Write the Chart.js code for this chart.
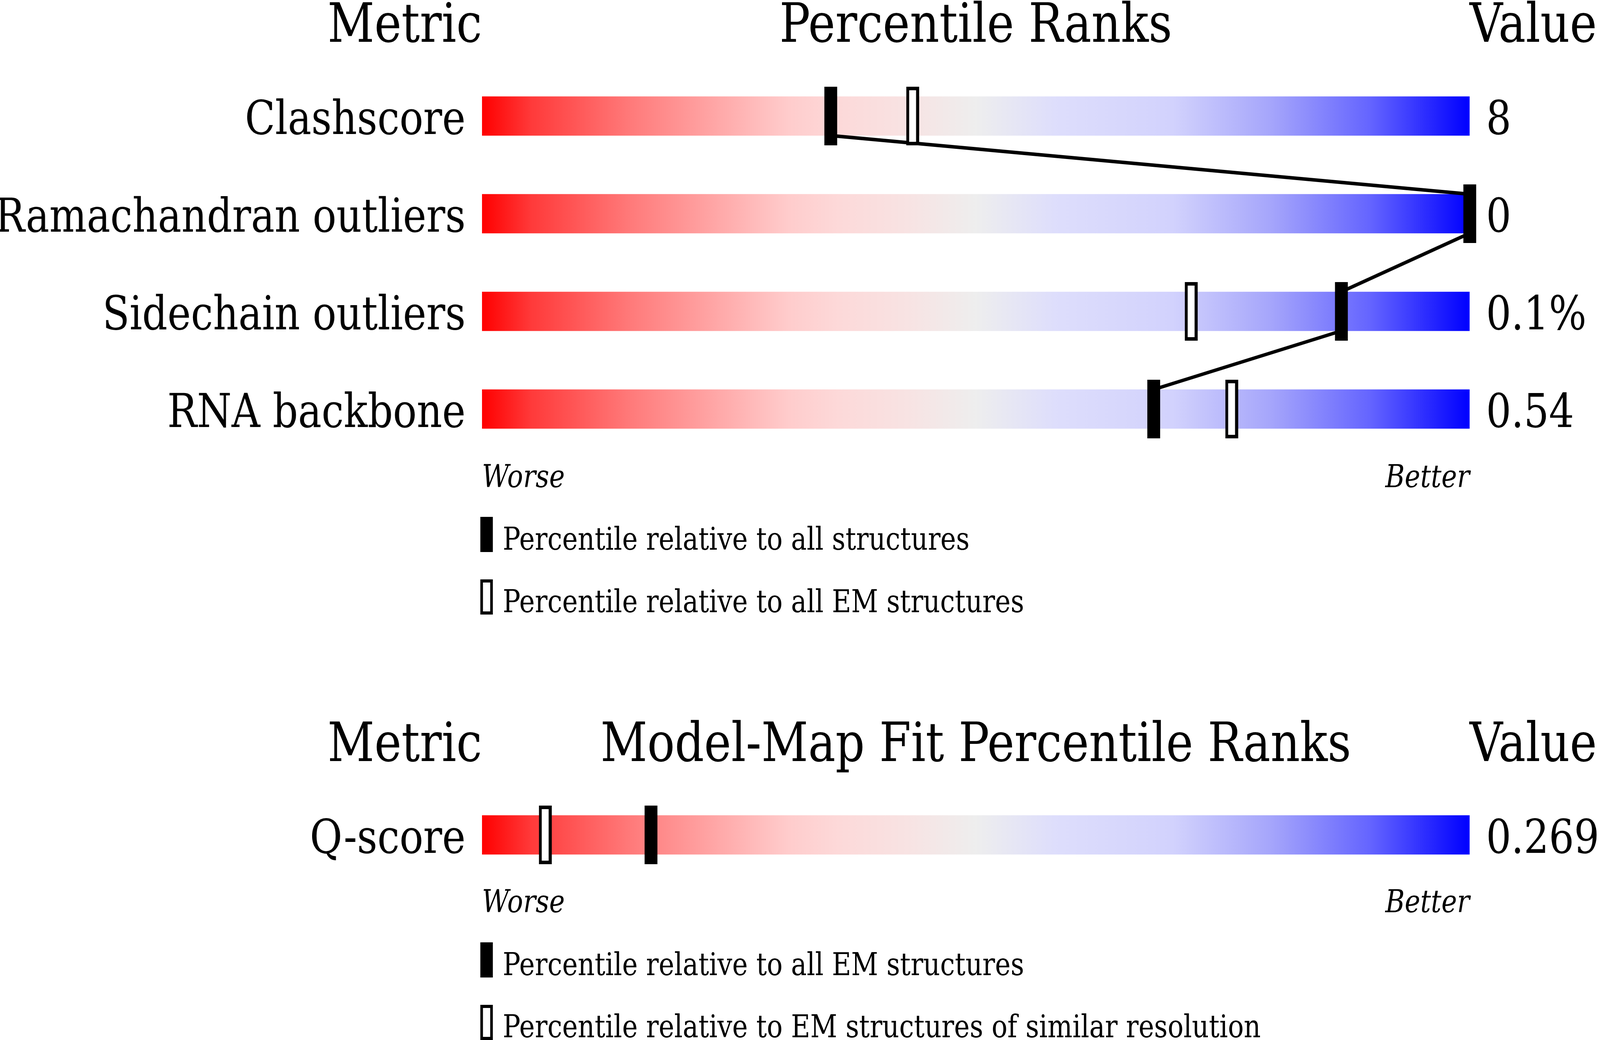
<!DOCTYPE html>
<html>
<head>
<meta charset="utf-8">
<script src="https://cdn.jsdelivr.net/npm/chart.js@4.4.1/dist/chart.umd.min.js"></script>
<style>
    html, body { margin: 0; padding: 0; background: #fff; overflow: hidden; }
    #stage { width: 4860px; height: 2662px; position: relative; transform-origin: 0 0; }
    canvas { position: absolute; left: 0; }
    #geoChart { top: 0; }
    #fitChart { top: 1850px; }
    svg { position: absolute; left: 0; top: 0; font-family: 'DejaVu Serif', serif; fill: #000; }
    .head { font-size: 139px; }
    .end { font-size: 80px; font-style: italic; }
    .key { font-size: 80px; }
</style>
</head>
<body>
<div id="stage">
<canvas id="geoChart" width="4860" height="1300"></canvas>
<canvas id="fitChart" width="4860" height="550"></canvas>

<svg width="4860" height="2662">
    <!-- 上段の見出し -->
    <text class="head" x="1464" y="107" text-anchor="end">Metric</text>
    <text class="head" x="2964" y="107" text-anchor="middle">Percentile Ranks</text>
    <text class="head" x="4464" y="107" text-anchor="start">Value</text>
    <text class="end" x="1464" y="1247" text-anchor="start">Worse</text>
    <text class="end" x="4464" y="1247" text-anchor="end">Better</text>
    <rect x="1459" y="1323" width="38" height="90" fill="#000"/>
    <text class="key" x="1527" y="1407">Percentile relative to all structures</text>
    <rect x="1463" y="1487" width="30" height="82" fill="#fff" stroke="#000" stroke-width="8"/>
    <text class="key" x="1527" y="1567">Percentile relative to all EM structures</text>

    <!-- 下段の見出し -->
    <text class="head" x="1464" y="1948" text-anchor="end">Metric</text>
    <text class="head" x="2964" y="1948" text-anchor="middle">Model-Map Fit Percentile Ranks</text>
    <text class="head" x="4464" y="1948" text-anchor="start">Value</text>
    <text class="end" x="1464" y="2335" text-anchor="start">Worse</text>
    <text class="end" x="4464" y="2335" text-anchor="end">Better</text>
    <rect x="1459" y="2412" width="38" height="90" fill="#000"/>
    <text class="key" x="1527" y="2496">Percentile relative to all EM structures</text>
    <rect x="1463" y="2576" width="30" height="82" fill="#fff" stroke="#000" stroke-width="8"/>
    <text class="key" x="1527" y="2655">Percentile relative to EM structures of similar resolution</text>
</svg>
</div>

<script>
// 幾何学的指標
const geoMetrics = ['Clashscore', 'Ramachandran outliers', 'Sidechain outliers', 'RNA backbone'];
const geoValues  = ['8', '0', '0.1%', '0.54'];
const geoAll     = [35.3, 100, 87.0, 68.0];   // 全構造に対するパーセンタイル
const geoEM      = [43.6, null, 71.8, 75.9];  // EM構造に対するパーセンタイル

// モデル-マップ適合
const fitMetrics    = ['Q-score'];
const fitValues     = ['0.269'];
const fitAllEM      = [17.1];   // 全EM構造
const fitSimilarRes = [6.4];    // 類似分解能のEM構造

const percentileSpan = [0, 100];

// 赤→灰→青 のグラデーション
const gradientStops = [
    [0.00, '#ff0000'], [0.05, '#ff3a3a'], [0.15, '#ff7a7a'], [0.25, '#ffaeae'],
    [0.31, '#ffcccc'], [0.36, '#fdd9d9'], [0.43, '#f8e3e3'], [0.50, '#eeeeee'],
    [0.58, '#dedefc'], [0.70, '#d2d2fd'], [0.80, '#a5a5fb'], [0.90, '#6464ff'],
    [1.00, '#0000ff']
];

// ウィンドウが 4860x2662 と違う場合は全体を合わせる
const stage = document.getElementById('stage');
stage.style.transform = `scale(${window.innerWidth / 4860}, ${window.innerHeight / 2662})`;

function trackGradient(context) {
    const { ctx, chartArea } = context.chart;
    if (!chartArea) return null;
    const g = ctx.createLinearGradient(chartArea.left, 0, chartArea.right, 0);
    gradientStops.forEach(([p, c]) => g.addColorStop(p, c));
    return g;
}

function markerImage(filled, w, h, border) {
    const c = document.createElement('canvas');
    c.width = w; c.height = h;
    const g = c.getContext('2d');
    g.fillStyle = '#000';
    g.fillRect(0, 0, w, h);
    if (!filled) {
        g.fillStyle = '#fff';
        g.fillRect(border, border, w - 2 * border, h - 2 * border);
    }
    return c;
}

const filledMarker = markerImage(true, 39, 150, 9);
const openMarker   = markerImage(false, 39, 150, 9);

/**
 * 隣り合うバーの黒マーカー同士を結ぶ折れ線
 */
const connectorPlugin = {
    id: 'connector',
    afterDatasetDraw(chart, args, opts) {
        if (args.index !== 0 || !opts.values || opts.values.length < 2) return;
        const bars = chart.getDatasetMeta(0).data;
        const x = chart.scales.x;
        const ctx = chart.ctx;
        ctx.save();
        ctx.lineWidth = 9;
        ctx.strokeStyle = '#000';
        ctx.beginPath();
        for (let i = 1; i < opts.values.length; i++) {
            const a = bars[i - 1], b = bars[i];
            ctx.moveTo(x.getPixelForValue(opts.values[i - 1]), a.y + a.height / 2);
            ctx.lineTo(x.getPixelForValue(opts.values[i]), b.y - b.height / 2);
        }
        ctx.stroke();
        ctx.restore();
    }
};

function markerPoints(values, labels) {
    return values
        .map((v, i) => ({ x: v, y: labels[i] }))
        .filter(p => p.x !== null);
}

function buildChart(canvasId, labels, values, allData, subData, padTop, padBottom) {
    const labelFont = { family: "'DejaVu Serif', serif", size: 120 };
    return new Chart(document.getElementById(canvasId), {
        type: 'bar',
        data: {
            labels,
            datasets: [
                {
                    data: labels.map(() => percentileSpan),
                    backgroundColor: trackGradient,
                    borderWidth: 0,
                    barThickness: 100,
                    order: 3
                },
                {
                    type: 'line',
                    data: markerPoints(subData, labels),
                    showLine: false,
                    pointStyle: openMarker,
                    clip: false,
                    order: 2
                },
                {
                    type: 'line',
                    data: markerPoints(allData, labels),
                    showLine: false,
                    pointStyle: filledMarker,
                    clip: false,
                    order: 1
                }
            ]
        },
        options: {
            indexAxis: 'y',
            responsive: false,
            devicePixelRatio: 1,
            animation: false,
            events: [],
            layout: { padding: { top: padTop, bottom: padBottom, left: 0, right: 0 } },
            plugins: {
                legend: { display: false },
                tooltip: { enabled: false },
                connector: { values: allData }
            },
            scales: {
                x: { type: 'linear', min: percentileSpan[0], max: percentileSpan[1], display: false },
                y: {
                    position: 'left',
                    grid: { display: false, drawTicks: false },
                    border: { display: false },
                    ticks: { font: labelFont, color: '#000', padding: 50, autoSkip: false, labelOffset: 15 },
                    afterFit: (s) => { s.width = 1464; }
                },
                yValue: {
                    type: 'category',
                    labels: values,
                    position: 'right',
                    offset: true,
                    grid: { display: false, drawTicks: false },
                    border: { display: false },
                    ticks: { font: labelFont, color: '#000', padding: 50, autoSkip: false, labelOffset: 15 },
                    afterFit: (s) => { s.width = 4860 - 4464; }
                }
            }
        },
        plugins: [connectorPlugin]
    });
}

buildChart('geoChart', geoMetrics, geoValues, geoAll, geoEM, 172, 128);
buildChart('fitChart', fitMetrics, fitValues, fitAllEM, fitSimilarRes, 162, 138);
</script>
</body>
</html>
